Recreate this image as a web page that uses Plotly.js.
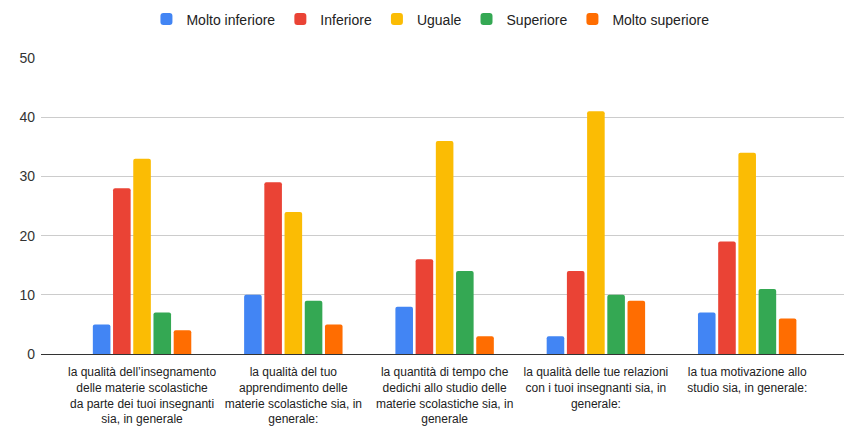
<!DOCTYPE html>
<html>
<head>
<meta charset="utf-8">
<script src="https://cdn.plot.ly/plotly-3.0.1.min.js"></script>
<style>
  html, body { margin: 0; padding: 0; background: #fff; }
  #chart { width: 844px; height: 436px; }
</style>
</head>
<body>
<div id="chart"></div>
<script>
// ---- data ----
const categories = [
  "la qualità dell’insegnamento delle materie scolastiche da parte dei tuoi insegnanti sia, in generale",
  "la qualità del tuo apprendimento delle materie scolastiche sia, in generale:",
  "la quantità di tempo che dedichi allo studio delle materie scolastiche sia, in generale",
  "la qualità delle tue relazioni con i tuoi insegnanti sia, in generale:",
  "la tua motivazione allo studio sia, in generale:"
];
const tickLabels = [
  "la qualità dell’insegnamento<br>delle materie scolastiche<br>da parte dei tuoi insegnanti<br>sia, in generale",
  "la qualità del tuo<br>apprendimento delle<br>materie scolastiche sia, in<br>generale:",
  "la quantità di tempo che<br>dedichi allo studio delle<br>materie scolastiche sia, in<br>generale",
  "la qualità delle tue relazioni<br>con i tuoi insegnanti sia, in<br>generale:",
  "la tua motivazione allo<br>studio sia, in generale:"
];
const seriesNames = ["Molto inferiore", "Inferiore", "Uguale", "Superiore", "Molto superiore"];
const moltoInferiore = [5, 10, 8, 3, 7];
const inferiore      = [28, 29, 16, 14, 19];
const uguale         = [33, 24, 36, 41, 34];
const superiore      = [7, 9, 14, 10, 11];
const moltoSuperiore = [4, 5, 3, 9, 6];
const yTicks = [0, 10, 20, 30, 40, 50];

// ---- styles ----
const colors = ["#4285F4", "#EA4335", "#FBBC04", "#34A853", "#FF6D01"];
const seriesValues = [moltoInferiore, inferiore, uguale, superiore, moltoSuperiore];

const traces = seriesValues.map((vals, i) => ({
  type: "bar",
  name: seriesNames[i],
  x: categories,
  y: vals,
  marker: { color: colors[i], line: { width: 0 } },
  hoverinfo: "skip"
}));

const layout = {
  width: 844,
  height: 436,
  margin: { l: 41, r: 0, t: 58, b: 82, pad: 0 },
  paper_bgcolor: "#ffffff",
  plot_bgcolor: "#ffffff",
  font: { family: "Liberation Sans, Arial, sans-serif", color: "#222222", size: 12 },
  barmode: "group",
  bargap: 0.332,
  bargroupgap: 0.13,
  barcornerradius: 2,
  showlegend: true,
  legend: {
    orientation: "h",
    xref: "container",
    yref: "container",
    x: 0.51,
    xanchor: "center",
    y: 0.992,
    yanchor: "top",
    font: { size: 14, color: "#222222" },
    itemclick: false,
    itemdoubleclick: false
  },
  xaxis: {
    type: "category",
    categoryorder: "array",
    categoryarray: categories,
    tickmode: "array",
    tickvals: categories,
    ticktext: tickLabels,
    range: [-0.668, 4.64],
    showgrid: false,
    showline: true,
    linecolor: "#333333",
    linewidth: 1,
    ticks: "",
    ticklabelstandoff: 7,
    tickfont: { size: 12, color: "#222222" },
    fixedrange: true
  },
  yaxis: {
    range: [0, 50],
    tickmode: "array",
    tickvals: yTicks,
    ticktext: yTicks.map(String),
    showgrid: true,
    gridcolor: "#cccccc",
    gridwidth: 1,
    zeroline: false,
    showline: false,
    ticks: "",
    ticklabelstandoff: 5,
    tickfont: { size: 14, color: "#333333" },
    fixedrange: true
  }
};

Plotly.newPlot("chart", traces, layout, { displayModeBar: false, staticPlot: true });
</script>
</body>
</html>
